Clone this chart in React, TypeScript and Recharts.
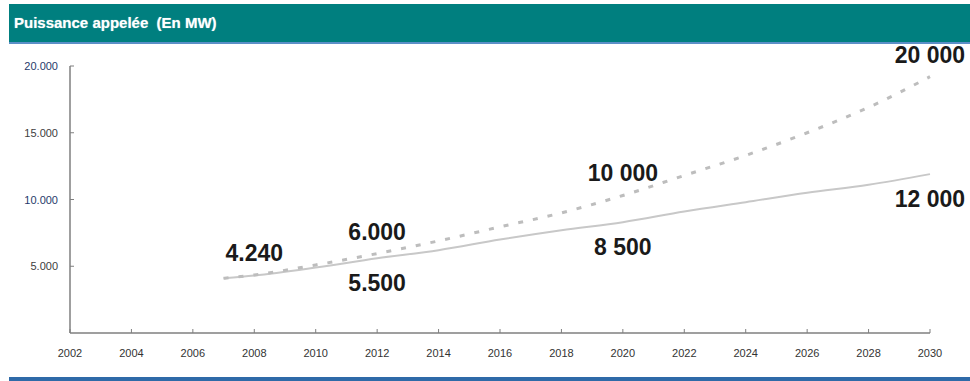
import { Line, LineChart, XAxis, YAxis } from "recharts";

const YEARS = [2007, 2008, 2010, 2012, 2014, 2016, 2018, 2020, 2022, 2024, 2026, 2028, 2030];
const BASE = [4100, 4300, 4900, 5600, 6200, 7000, 7700, 8300, 9100, 9800, 10500, 11100, 11900];
const HIGH = [4100, 4350, 5100, 5950, 6900, 7950, 9000, 10300, 11800, 13300, 15000, 16900, 19200];

const X_TICKS = [2002, 2004, 2006, 2008, 2010, 2012, 2014, 2016, 2018, 2020, 2022, 2024, 2026, 2028, 2030];
const Y_TICKS = [5000, 10000, 15000, 20000];
const Y_TICK_LABELS = ["5.000", "10.000", "15.000", "20.000"];

// annotation texts, keyed by year
const BASE_NOTES: Record<number, string> = { 2012: "5.500", 2020: "8 500", 2030: "12 000" };
const HIGH_NOTES: Record<number, string> = { 2008: "4.240", 2012: "6.000", 2020: "10 000", 2030: "20 000" };

const TITLE = "Puissance appelée  (En MW)";

const data = YEARS.map((year, i) => ({ year, base: BASE[i], high: HIGH[i] }));

const FONT = "'Liberation Sans', Arial, sans-serif";
const AXIS_COLOR = "#7f7f7f";

function YTick({ x, y, payload }: any) {
  const i = Y_TICKS.indexOf(payload.value);
  const color = payload.value % 10000 === 0 ? "#1f3a6b" : "#404040";
  return (
    <g>
      <line x1={x} y1={y} x2={x + 4} y2={y} stroke={AXIS_COLOR} strokeWidth={1} />
      <text x={x - 12} y={y} textAnchor="end" dominantBaseline="central" fontSize={11} fill={color} fontFamily={FONT}>
        {i >= 0 ? Y_TICK_LABELS[i] : ""}
      </text>
    </g>
  );
}

function XTick({ x, y, payload }: any) {
  return (
    <g>
      <line x1={x} y1={y} x2={x} y2={y - 4} stroke={AXIS_COLOR} strokeWidth={1} />
      <text x={x} y={y + 20} textAnchor="middle" dominantBaseline="central" fontSize={11} fill="#333" fontFamily={FONT}>
        {payload.value}
      </text>
    </g>
  );
}

const noteLabel = (notes: Record<number, string>, dy: number) => (props: any) => {
  const year = data[props.index]?.year;
  const text = notes[year];
  if (!text) return <g />;
  return (
    <text
      key={`n-${year}-${dy}`}
      x={props.x}
      y={props.y + dy}
      textAnchor="middle"
      dominantBaseline="central"
      fontSize={23}
      fontWeight="bold"
      fill="#1a1a1a"
      fontFamily={FONT}
    >
      {text}
    </text>
  );
};

export default function App() {
  return (
    <div style={{ position: "absolute", left: 0, top: 0, width: 970, height: 381, background: "#fff", overflow: "hidden" }}>
      <LineChart
        width={970}
        height={381}
        data={data}
        margin={{ top: 66, right: 40, bottom: 18, left: 0 }}
      >
        <XAxis
          dataKey="year"
          type="number"
          domain={[2002, 2030]}
          ticks={X_TICKS}
          height={30}
          tick={<XTick />}
          tickLine={false}
          tickSize={0}
          tickMargin={0}
          axisLine={{ stroke: AXIS_COLOR, strokeWidth: 1.5 }}
        />
        <YAxis
          type="number"
          domain={[0, 20000]}
          ticks={Y_TICKS}
          width={70}
          tick={<YTick />}
          tickLine={false}
          tickSize={0}
          tickMargin={0}
          axisLine={{ stroke: AXIS_COLOR, strokeWidth: 1.5 }}
        />
        <Line
          dataKey="base"
          type="monotone"
          stroke="#c8c8c8"
          strokeWidth={2}
          dot={false}
          isAnimationActive={false}
          label={noteLabel(BASE_NOTES, 25)}
        />
        <Line
          dataKey="high"
          type="monotone"
          stroke="#bdbdbd"
          strokeWidth={3}
          strokeDasharray="5 10"
          dot={false}
          isAnimationActive={false}
          label={noteLabel(HIGH_NOTES, -22)}
        />
      </LineChart>
      <div
        style={{
          position: "absolute",
          left: 9,
          top: 4,
          right: 0,
          height: 38,
          background: "#007f7f",
          borderBottom: "2px solid #5b8fc7",
          color: "#fff",
          fontFamily: FONT,
          fontWeight: "bold",
          fontSize: 15,
          lineHeight: "38px",
          paddingLeft: 5,
          whiteSpace: "pre",
          boxSizing: "content-box",
          textShadow: "0 0 1px rgba(255,255,255,0.6)",
        }}
      >
        {TITLE}
      </div>
      <div style={{ position: "absolute", left: 9, right: 0, top: 377, height: 4, background: "#2f6aa8" }} />
    </div>
  );
}
